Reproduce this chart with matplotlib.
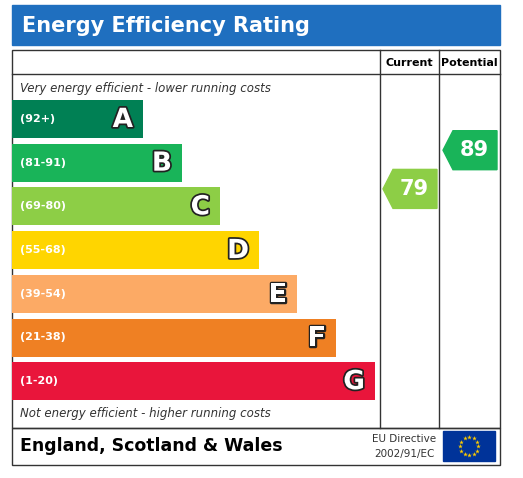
import matplotlib
matplotlib.use("Agg")
import matplotlib.pyplot as plt
from matplotlib.patches import Rectangle, Polygon
import matplotlib.patheffects as pe

bands = ["A", "B", "C", "D", "E", "F", "G"]
ranges = ["(92+)", "(81-91)", "(69-80)", "(55-68)", "(39-54)", "(21-38)", "(1-20)"]
colors = ["#008054", "#19b459", "#8dce46", "#ffd500", "#fcaa65", "#ef8023", "#e9153b"]
bar_ends = [143, 182, 220, 259, 297, 336, 375]
current = 79
potential = 89
current_color = "#8dce46"
potential_color = "#19b459"

W, H = 523, 478
fig = plt.figure(figsize=(W/100, H/100), dpi=100)
ax = fig.add_axes([0, 0, 1, 1])
ax.set_xlim(0, W); ax.set_ylim(H, 0); ax.axis("off")

# title
ax.add_patch(Rectangle((12, 5), 488, 40, color="#1f6fbf"))
ax.text(22, 26, "Energy Efficiency Rating", color="white", fontsize=15, fontweight="bold", va="center")
# frame
lc = "#333333"
ax.add_patch(Rectangle((12, 50), 488, 378, fill=False, ec=lc, lw=1))
ax.plot([12, 500], [74, 74], color=lc, lw=1)
ax.plot([380, 380], [50, 428], color=lc, lw=1)
ax.plot([439, 439], [50, 428], color=lc, lw=1)
ax.add_patch(Rectangle((12, 428), 488, 37, fill=False, ec=lc, lw=1))
ax.text(409, 63, "Current", fontsize=8, fontweight="bold", ha="center", va="center")
ax.text(469, 63, "Potential", fontsize=8, fontweight="bold", ha="center", va="center")
ax.text(20, 88, "Very energy efficient - lower running costs", fontsize=8.5, style="italic", color="#333333", va="center")
ax.text(20, 413, "Not energy efficient - higher running costs", fontsize=8.5, style="italic", color="#333333", va="center")

tops = [100 + i*43.7 for i in range(7)]
bh = 38
for i, b in enumerate(bands):
    y = tops[i]
    ax.barh(y + bh/2, bar_ends[i] - 12, left=12, height=bh, color=colors[i])
    ax.text(20, y + bh/2, ranges[i], fontsize=8, fontweight="bold", color="white", va="center")
    ax.text(bar_ends[i] - 10, y + bh/2 + 1, b, fontsize=19, fontweight="bold", color="white",
            ha="right", va="center", path_effects=[pe.withStroke(linewidth=2.5, foreground="#222222")])

def band_index(v):
    lows = [92, 81, 69, 55, 39, 21, 1]
    for i, l in enumerate(lows):
        if v >= l:
            return i
    return 6

def arrow(x0, x1, v, col):
    y = tops[band_index(v)] - 13 if col == potential_color else tops[band_index(v)] - 18
    y0, y1 = y, y + 39
    pts = [(x0, (y0+y1)/2), (x0+10, y0), (x1, y0), (x1, y1), (x0+10, y1)]
    ax.add_patch(Polygon(pts, color=col))
    ax.text((x0+x1)/2 + 4, (y0+y1)/2, str(v), fontsize=15, fontweight="bold", color="white", ha="center", va="center")

arrow(383, 437, current, current_color)
arrow(443, 497, potential, potential_color)

ax.text(20, 446, "England, Scotland & Wales", fontsize=12.5, fontweight="bold", va="center")
ax.text(404, 439, "EU Directive", fontsize=7.5, ha="center", va="center", color="#333333")
ax.text(404, 454, "2002/91/EC", fontsize=7.5, ha="center", va="center", color="#333333")
ax.add_patch(Rectangle((443, 431), 52, 30, color="#003399"))
import math
for k in range(12):
    a = 2*math.pi*k/12
    ax.plot(469 + 9*math.cos(a), 446 + 9*math.sin(a), marker="*", color="#ffcc00", ms=3.5, mew=0)

fig.savefig("out.png", dpi=100)
